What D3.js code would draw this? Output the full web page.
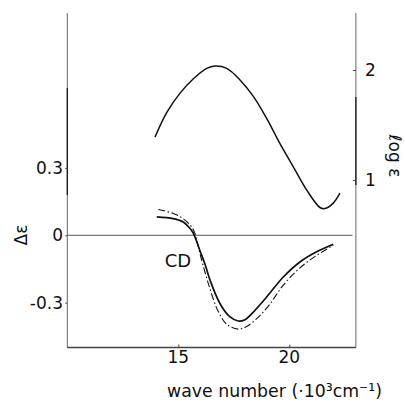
<!DOCTYPE html>
<html><head><meta charset="utf-8">
<script src="https://cdn.jsdelivr.net/npm/d3@7"></script>
<style>body{margin:0;background:#fff}svg{display:block}text{font-family:"DejaVu Sans",sans-serif;fill:#111}</style>
</head><body><svg id="c" width="405" height="402"></svg>
<script>
// log ε absorption spectrum (right axis)
const absWn  = [13.95,14.47,15.08,15.68,16.28,16.65,17.18,17.78,18.38,18.98,19.58,20.18,20.78,21.38,21.6,21.98,22.28];
const absLog = [1.39,1.61,1.79,1.92,2.015,2.036,2.015,1.91,1.76,1.56,1.33,1.12,0.91,0.75,0.74,0.79,0.88];
// CD solid
const cdWn   = [14.03,14.77,15.22,15.53,15.68,15.98,16.2,16.43,16.88,17.33,17.7,18.0,18.38,18.98,19.73,20.48,21.23,21.98];
const cdVal  = [0.082,0.074,0.059,0.03,0.008,-0.07,-0.128,-0.2,-0.305,-0.364,-0.382,-0.376,-0.342,-0.275,-0.186,-0.119,-0.074,-0.04];
// CD dash-dot
const cd2Wn  = [14.1,14.77,15.22,15.6,15.75,15.9,16.05,16.4,16.8,17.2,17.7,18.1,18.6,19.1,19.73,20.48,21.23,21.98];
const cd2Val = [0.115,0.097,0.074,0.037,0.008,-0.05,-0.11,-0.23,-0.34,-0.398,-0.418,-0.405,-0.365,-0.31,-0.222,-0.145,-0.09,-0.045];
const xTicks = [15,20];
const yLTicks = [-0.3,0,0.3];
const yLLabels = ["-0.3","0","0.3"];
const yRTicks = [1,2];

const svg = d3.select("#c");
const x = d3.scaleLinear().domain([10,23]).range([67.3,355.9]);
const yL = d3.scaleLinear().domain([-0.5,0.99]).range([347.5,13]);
const yR = d3.scaleLinear().domain([-0.525,2.52]).range([347.75,12.8]);
const axisC = "#666";

// frame lines
svg.append("line").attr("x1",x(10)).attr("x2",x(10)).attr("y1",13).attr("y2",347.5).attr("stroke",axisC).attr("stroke-width",1);
svg.append("line").attr("x1",x(23)).attr("x2",x(23)).attr("y1",13).attr("y2",347.5).attr("stroke",axisC).attr("stroke-width",1);
svg.append("line").attr("x1",x(10)).attr("x2",x(23)).attr("y1",347.5).attr("y2",347.5).attr("stroke","#444").attr("stroke-width",1.3);
// darker segments (scan artefact)
svg.append("line").attr("x1",x(10)).attr("x2",x(10)).attr("y1",88).attr("y2",195).attr("stroke","#111").attr("stroke-width",1.2);
svg.append("line").attr("x1",x(23)).attr("x2",x(23)).attr("y1",97).attr("y2",185).attr("stroke","#111").attr("stroke-width",1.2);

// axes via d3 (ticks only, no domain)
const gx = svg.append("g").attr("transform","translate(0,347.5)")
  .call(d3.axisTop(x).tickValues(xTicks).tickSize(3).tickFormat(""));
const gl = svg.append("g").attr("transform",`translate(${x(10)},0)`)
  .call(d3.axisLeft(yL).tickValues(yLTicks).tickSize(2).tickFormat(""));
const gr = svg.append("g").attr("transform",`translate(${x(23)},0)`)
  .call(d3.axisLeft(yR).tickValues(yRTicks).tickSize(3).tickFormat(""));
[gx,gl,gr].forEach(g=>{g.select(".domain").remove();g.selectAll("line").attr("stroke","#444");});

// tick labels
svg.selectAll(".xt").data(xTicks).join("text").attr("x",d=>x(d)).attr("y",363)
  .attr("text-anchor","middle").attr("font-size",17).text(d=>d);
svg.selectAll(".ylt").data(yLTicks).join("text").attr("x",63).attr("y",d=>yL(d)+6)
  .attr("text-anchor","end").attr("font-size",17).text((d,i)=>yLLabels[i]);
svg.selectAll(".yrt").data(yRTicks).join("text").attr("x",365).attr("y",d=>yR(d)+6)
  .attr("text-anchor","start").attr("font-size",17).text(d=>d);

// zero line
svg.append("line").attr("x1",x(10)).attr("x2",x(22.85)).attr("y1",yL(0)).attr("y2",yL(0)).attr("stroke","#555").attr("stroke-width",1);

const line = (ys) => d3.line().x(d=>x(d[0])).y(d=>ys(d[1])).curve(d3.curveCatmullRom.alpha(0.5));
svg.append("path").attr("d",line(yR)(absWn.map((w,i)=>[w,absLog[i]]))).attr("fill","none").attr("stroke","#111").attr("stroke-width",1.5);
svg.append("path").attr("d",line(yL)(cdWn.map((w,i)=>[w,cdVal[i]]))).attr("fill","none").attr("stroke","#111").attr("stroke-width",1.7);
svg.append("path").attr("d",line(yL)(cd2Wn.map((w,i)=>[w,cd2Val[i]]))).attr("fill","none").attr("stroke","#111").attr("stroke-width",1.1).attr("stroke-dasharray","7,2.5,1.5,2.5");

// labels
svg.append("text").attr("x",178).attr("y",267).attr("text-anchor","middle").attr("font-size",18).text("CD");
svg.append("text").attr("transform","translate(27,235) rotate(-90)").attr("text-anchor","middle").attr("font-size",17).text("Δε");
svg.append("text").attr("transform","translate(389,156) rotate(90)").attr("text-anchor","middle").attr("font-size",17).text("ℓog ε");
svg.append("text").attr("x",382).attr("y",397).attr("text-anchor","end").attr("font-size",18)
  .attr("textLength",215).attr("lengthAdjust","spacingAndGlyphs").text("wave  number (·10³cm⁻¹)");
</script></body></html>
